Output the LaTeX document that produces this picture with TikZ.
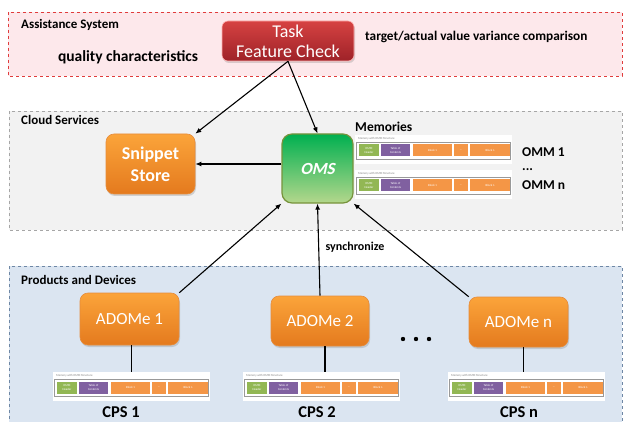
\documentclass[tikz,border=0pt]{standalone}
\usepackage{fontspec}
\setmainfont{Carlito}
\newfontfamily\omsfont[FakeSlant=0.22]{Carlito}
\usetikzlibrary{arrows.meta,shadows}
\definecolor{pinkfill}{RGB}{253,232,235}
\definecolor{redborder}{RGB}{224,60,60}
\definecolor{grayfill}{RGB}{242,242,242}
\definecolor{grayborder}{RGB}{166,166,166}
\definecolor{bluefill}{RGB}{219,229,241}
\definecolor{blueborder}{RGB}{110,135,165}
\definecolor{orangetop}{RGB}{251,164,58}
\definecolor{orangebot}{RGB}{228,122,30}
\definecolor{orangeborder}{RGB}{230,140,60}
\definecolor{redtop}{RGB}{214,66,66}
\definecolor{redbot}{RGB}{158,34,40}
\definecolor{greentop}{RGB}{0,176,80}
\definecolor{greenbot}{RGB}{180,215,140}
\definecolor{greenborder}{RGB}{119,147,60}
\definecolor{memgreen}{RGB}{146,183,84}
\definecolor{mempurple}{RGB}{128,96,160}
\definecolor{memorange}{RGB}{244,150,70}
\tikzset{
  zone/.style={dashed, line width=0.9pt},
  lbl/.style={font=\bfseries\fontsize{13}{15}\selectfont, inner sep=0pt},
  biglbl/.style={font=\bfseries\fontsize{14}{16}\selectfont, inner sep=0pt},
  orangebox/.style={rounded corners=8pt, shading=axis, top color=orangetop, bottom color=orangebot,
    draw=orangeborder, line width=0.6pt, text=white, align=center, inner sep=0pt,
    drop shadow={opacity=0.3, shadow xshift=1pt, shadow yshift=-2pt}},
  conn/.style={line width=1.1pt, -{Latex[length=6pt,width=5pt]}},
  plain/.style={line width=1.1pt},
  memcell/.style={inner sep=0pt, minimum height=12pt, text=white, align=center,
    font=\fontsize{3}{3.5}\selectfont},
  ommmem/.pic={
    \fill[white] (0,0) rectangle (157,29);
    \node[anchor=west, inner sep=0pt, text=gray, font=\fontsize{3}{3.5}\selectfont] (-title) at (3,3.5) {Memory with OMM Structure};
    \draw[gray!80, line width=0.8pt] (1.5,7) rectangle (155.5,24);
    \node[memcell, fill=memgreen, minimum width=20pt] (-hdr) at (14,15.5) {OMM\\Header};
    \node[memcell, fill=mempurple, minimum width=29pt] (-toc) at (40.5,15.5) {Table of\\Contents};
    \node[memcell, fill=memorange, minimum width=39pt] (-b1) at (77.5,15.5) {Block 1};
    \node[memcell, fill=memorange, minimum width=14pt] (-dots) at (106,15.5) {...};
    \node[memcell, fill=memorange, minimum width=40pt] (-bn) at (135,15.5) {Block n};
    \coordinate (-top) at (78,0);
  }
}
\begin{document}
\begin{tikzpicture}[x=1pt,y=-1pt]
\useasboundingbox (0,0) rectangle (626,422);
% zones
\draw[zone, draw=redborder, fill=pinkfill] (8,12) rectangle (622,76);
\draw[zone, draw=grayborder, fill=grayfill] (9,111) rectangle (622,230);
\draw[zone, draw=blueborder, fill=bluefill] (9,266) rectangle (622,430);
\node[lbl, anchor=west] (asys) at (21,25) {Assistance System};
\node[lbl, anchor=west] (cloud) at (21,120) {Cloud Services};
\node[lbl, anchor=west] (prod) at (21,280) {Products and Devices};
\node[biglbl, font=\bfseries\fontsize{15.5}{17}\selectfont] (qual) at (128,57) {quality characteristics};
\node[lbl, font=\bfseries\fontsize{13.3}{15}\selectfont, anchor=west] (tavc) at (365,37) {target/actual value variance comparison};
% task
\node[rounded corners=6pt, shading=axis, top color=redtop, bottom color=redbot, draw=red!30,
  line width=0.6pt, text=white, align=center, inner sep=0pt, minimum width=132pt, minimum height=40pt,
  font=\fontsize{18}{20}\selectfont, drop shadow={opacity=0.3, shadow xshift=1pt, shadow yshift=-2pt}]
  (task) at (288,41) {Task\\Feature Check};
% cloud
\node[orangebox, minimum width=89pt, minimum height=60pt, font=\bfseries\fontsize{18}{22}\selectfont]
  (ss) at (150.5,164) {Snippet\\Store};
\node[rounded corners=10pt, shading=axis, top color=greentop, bottom color=greenbot, draw=greenborder,
  line width=1.2pt, text=white, inner sep=0pt, minimum width=71pt, minimum height=69pt,
  font=\omsfont\bfseries\fontsize{17}{20}\selectfont] (oms) at (317.5,168.5) {OMS};
\node[lbl, font=\bfseries\fontsize{13.5}{15}\selectfont, anchor=west] (mem) at (355,127) {Memories};
\pic (omm1) at (355,135) {ommmem};
\pic (ommn) at (355,170) {ommmem};
\node[biglbl, font=\bfseries\fontsize{13.5}{15}\selectfont, anchor=west] (l1) at (522,152) {OMM 1};
\node[biglbl, font=\bfseries\fontsize{13.5}{15}\selectfont, anchor=west] (ld) at (522,170) {...};
\node[biglbl, font=\bfseries\fontsize{13.5}{15}\selectfont, anchor=west] (ln) at (522,185) {OMM n};
% products
\node[orangebox, minimum width=99pt, minimum height=52pt, font=\fontsize{17}{20}\selectfont]
  (a1) at (129.5,319) {ADOMe 1};
\node[orangebox, minimum width=98pt, minimum height=50pt, font=\fontsize{17}{20}\selectfont]
  (a2) at (320,321) {ADOMe 2};
\node[orangebox, minimum width=99pt, minimum height=50pt, font=\fontsize{17}{20}\selectfont]
  (an) at (518.5,322) {ADOMe n};
\pic (cps1) at (53,372) {ommmem};
\pic (cps2) at (243,372) {ommmem};
\pic (cpsn) at (448,372) {ommmem};
\node[biglbl, font=\bfseries\fontsize{16.5}{18}\selectfont] (c1) at (121,412) {CPS 1};
\node[biglbl, font=\bfseries\fontsize{16.5}{18}\selectfont] (c2) at (317,412) {CPS 2};
\node[biglbl, font=\bfseries\fontsize{16.5}{18}\selectfont] (cn) at (519,412) {CPS n};
\fill (403,339) circle (2.2pt) (416,339) circle (2.2pt) (429,339) circle (2.2pt);
\node[lbl, font=\bfseries\fontsize{12}{14}\selectfont] (sync) at (355,247) {synchronize};
% connectors
\draw[conn] (task.south) -- (ss.north east);
\draw[conn] (task.south) -- (oms.north);
\draw[conn] (oms.west |- ss.east) -- (ss.east);
\draw[conn] (a1.north east) -- (oms.south west);
\draw[conn] (a2.north) -- (oms.south);
\draw[conn] (an.north west) -- (oms.south east);
\draw[plain] ([xshift=2pt]a1.south) -- ([xshift=2pt]a1.south |- cps1-top);
\draw[plain] ([xshift=5pt]a2.south) -- ([xshift=5pt]a2.south |- cps2-top);
\draw[plain] ([xshift=5pt]an.south) -- ([xshift=5pt]an.south |- cpsn-top);
\end{tikzpicture}
\end{document}
